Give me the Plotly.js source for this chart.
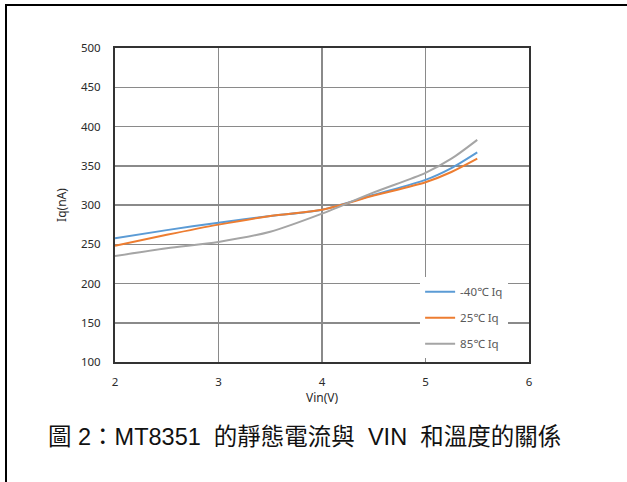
<!DOCTYPE html>
<html>
<head>
<meta charset="utf-8">
<script src="https://cdn.plot.ly/plotly-3.0.1.min.js"></script>
<style>
  html, body { margin: 0; padding: 0; background: #fff; }
  #wrap { position: relative; width: 627px; height: 482px; }
  #chart { position: absolute; left: 0; top: 0; width: 627px; height: 482px; }
  #frame { position: absolute; left: 5px; top: 4px; right: 0; bottom: 0;
           border-top: 2px solid #000; border-left: 2px solid #000; pointer-events: none; }
</style>
</head>
<body>
<div id="wrap">
  <div id="chart"></div>
  <div id="frame"></div>
</div>
<script>
const vin = [2, 2.5, 3, 3.5, 4, 4.5, 5, 5.25, 5.5];
const iqMinus40 = [257.6, 268, 277.5, 286, 294, 313, 332, 347, 367];
const iq25 = [248, 262, 275, 286, 294, 312, 329, 342, 359];
const iq85 = [235, 245, 253, 266, 289, 316, 341, 359, 383];
const seriesNames = ['-40℃ Iq', '25℃ Iq', '85℃ Iq'];
const seriesColors = ['#5B9BD5', '#ED7D31', '#A5A5A5'];
const xTicks = [2, 3, 4, 5, 6];
const yTicks = [100, 150, 200, 250, 300, 350, 400, 450, 500];
const captionText = '圖 2：MT8351  的靜態電流與  VIN  和溫度的關係';

const ys = [iqMinus40, iq25, iq85];
const traces = ys.map((y, i) => ({
  x: vin, y: y, type: 'scatter', mode: 'lines', name: seriesNames[i],
  legendgroup: 'g' + i,
  line: { color: seriesColors[i], width: 2, shape: 'spline', smoothing: 0.8 }
}));

const tickFont = { family: 'Noto Sans, DejaVu Sans, sans-serif', size: 11.5, color: '#2a2a2a' };

const layout = {
  width: 627, height: 482,
  margin: { l: 115, r: 98, t: 48, b: 120 },
  paper_bgcolor: '#fff', plot_bgcolor: '#fff',
  showlegend: true,
  legend: {
    x: 0.737, y: 0.27, xanchor: 'left', yanchor: 'top',
    bgcolor: '#fff', borderwidth: 0,
    font: { family: 'Noto Sans, DejaVu Sans, sans-serif', size: 11.5, color: '#595959' },
    traceorder: 'grouped', tracegroupgap: 7, itemwidth: 30
  },
  xaxis: {
    range: [2, 6], tickvals: xTicks, ticktext: xTicks.map(String),
    showgrid: true, gridcolor: '#8a8a8a', gridwidth: 1.5,
    showline: true, linecolor: '#333', linewidth: 2, mirror: true,
    ticks: '', ticklabelstandoff: 8, zeroline: false,
    tickfont: tickFont,
    title: { text: 'Vin(V)', font: { family: 'Noto Sans, DejaVu Sans, sans-serif', size: 12, color: '#2a2a2a' }, standoff: 0 }
  },
  yaxis: {
    range: [100, 500], tickvals: yTicks, ticktext: yTicks.map(String),
    showgrid: true, gridcolor: '#8a8a8a', gridwidth: 1.5,
    showline: true, linecolor: '#333', linewidth: 2, mirror: true,
    ticks: '', ticklabelstandoff: 10, zeroline: false,
    tickfont: tickFont,
    title: { text: 'Iq(nA)', font: { family: 'Noto Sans, DejaVu Sans, sans-serif', size: 12, color: '#2a2a2a' }, standoff: 12 }
  },
  annotations: [{
    text: captionText, xref: 'paper', yref: 'paper',
    x: 0.4577, y: -0.2389, xanchor: 'center', yanchor: 'middle', showarrow: false,
    font: { family: 'Liberation Sans, Noto Sans CJK TC, sans-serif', size: 23.5, color: '#111' }
  }]
};

Plotly.newPlot('chart', traces, layout, { staticPlot: true, displayModeBar: false });
</script>
</body>
</html>
